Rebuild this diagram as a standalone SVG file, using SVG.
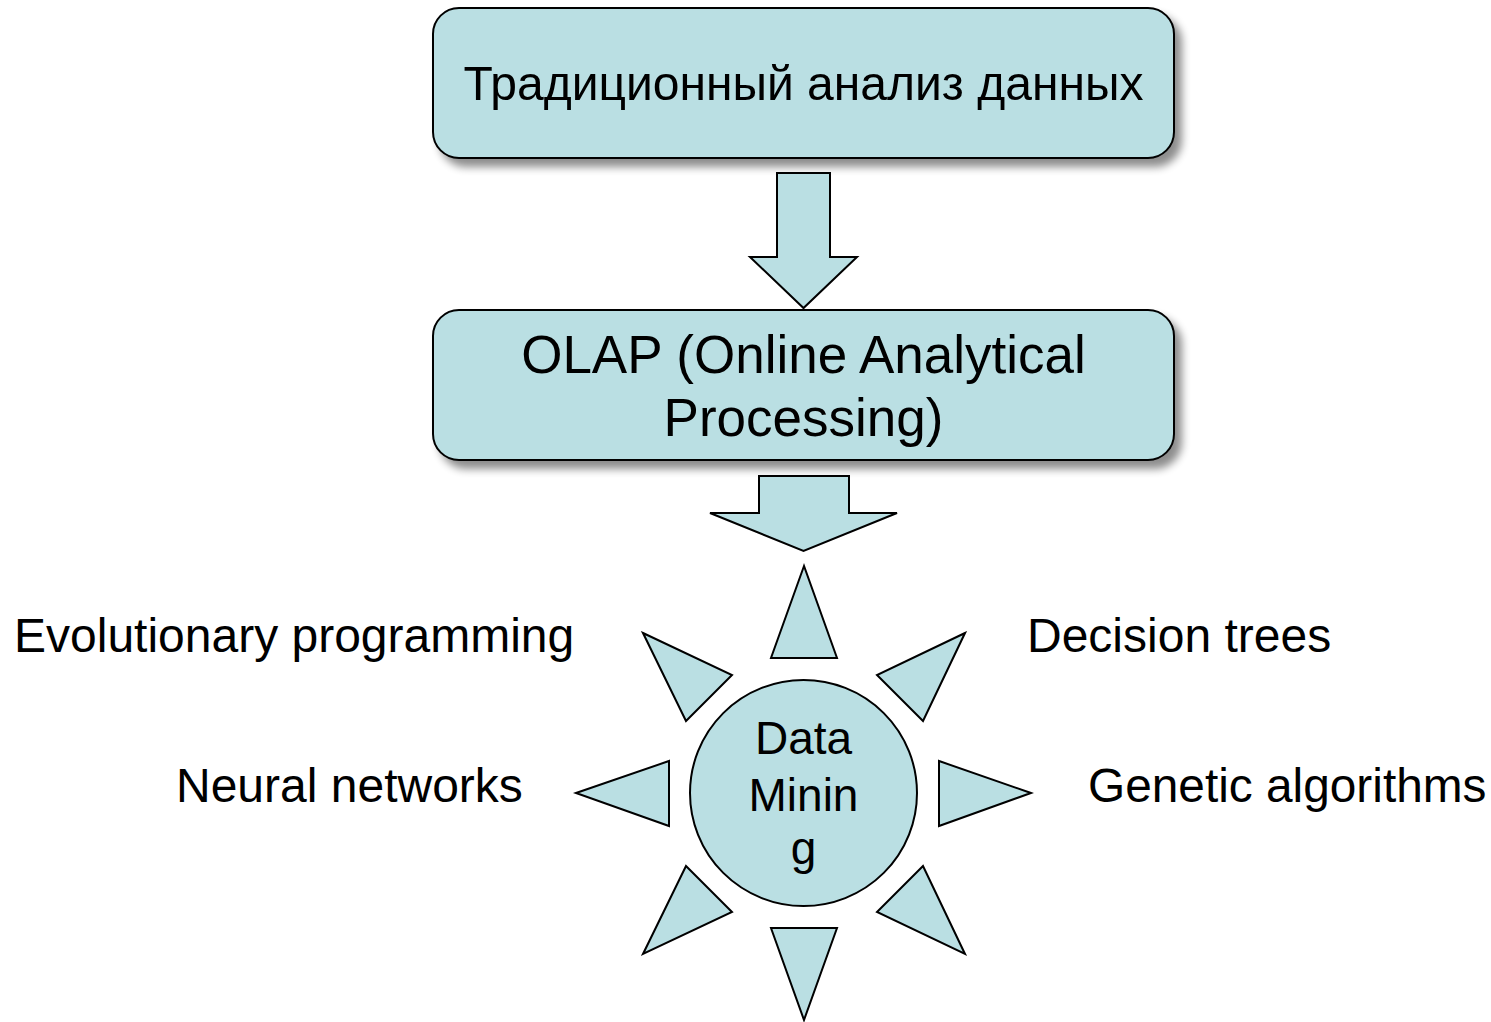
<svg xmlns="http://www.w3.org/2000/svg" width="1491" height="1022" viewBox="0 0 1491 1022">
<style>
.shape{fill:#badfe3;stroke:#000;stroke-width:2;stroke-linejoin:miter}
.t{font-family:"Liberation Sans",Arial,sans-serif;fill:#000}
</style>
<defs>
<filter id="sh" x="-10%" y="-20%" width="130%" height="160%">
<feGaussianBlur in="SourceAlpha" stdDeviation="4"/>
<feOffset dx="7" dy="8" result="b"/>
<feComponentTransfer><feFuncA type="linear" slope="0.45"/></feComponentTransfer>
<feMerge><feMergeNode/><feMergeNode in="SourceGraphic"/></feMerge>
</filter>
</defs>
<rect width="1491" height="1022" fill="#fff"/>
<g id="node-traditional" filter="url(#sh)">
<rect class="shape" x="433" y="8" width="741" height="150" rx="26"/>
<text class="t" x="803.5" y="100" font-size="48" text-anchor="middle">Традиционный анализ данных</text>
</g>
<g id="node-olap" filter="url(#sh)">
<rect class="shape" x="433" y="310" width="741" height="150" rx="26"/>
<text class="t" x="803.5" y="373" font-size="53" text-anchor="middle">OLAP (Online Analytical</text>
<text class="t" x="803.5" y="436" font-size="53" text-anchor="middle">Processing)</text>
</g>
<g id="connectors">
<polygon class="shape" points="777,173 830,173 830,257 857,257 803.5,308 750,257 777,257"/>
<polygon class="shape" points="759,476 849,476 849,513 897,513 803.5,551 710,513 759,513"/>
</g>
<g id="node-datamining">
<ellipse class="shape" cx="803.5" cy="793" rx="113.5" ry="113"/>
<text class="t" x="803.5" y="754" font-size="46" text-anchor="middle">Data</text>
<text class="t" x="803.5" y="811" font-size="46" text-anchor="middle">Minin</text>
<text class="t" x="803.5" y="864" font-size="46" text-anchor="middle">g</text>
</g>
<g id="rays">
<polygon class="shape" points="804,566 771,658 837,658"/>
<polygon class="shape" points="771,928 837,928 804,1020"/>
<polygon class="shape" points="576,793 669,761 669,826"/>
<polygon class="shape" points="1031,793 939,761 939,826"/>
<polygon class="shape" points="643,633 732,675 686,721"/>
<polygon class="shape" points="965,633 877,675 923,721"/>
<polygon class="shape" points="686,866 732,912 643,954"/>
<polygon class="shape" points="923,866 877,912 965,954"/>
</g>
<g id="labels">
<text class="t" x="14" y="652" font-size="48">Evolutionary programming</text>
<text class="t" x="1027" y="652" font-size="48">Decision trees</text>
<text class="t" x="176" y="802" font-size="48">Neural networks</text>
<text class="t" x="1088" y="802" font-size="47.8">Genetic algorithms</text>
</g>
</svg>
